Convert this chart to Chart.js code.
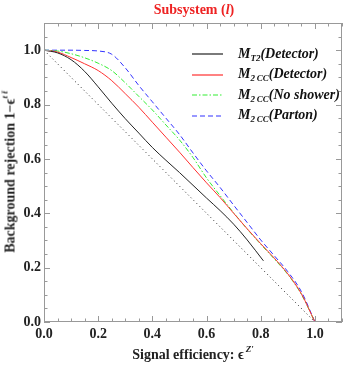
<!DOCTYPE html>
<html>
<head>
<meta charset="utf-8">
<script src="https://cdn.jsdelivr.net/npm/chart.js@4.4.1/dist/chart.umd.min.js"></script>
<style>
    body { margin: 0; background: #fff; }
    #wrap { position: relative; width: 343px; height: 366px; font-family: "Liberation Serif", serif; font-weight: bold; }
    canvas { position: absolute; left: 0; top: 0; }
    .lbl { position: absolute; white-space: nowrap; color: #222; }
    #title { left: 0; width: 343px; top: 2px; text-align: center; padding-left: 45px; box-sizing: border-box; color: #ee2222; font-size: 14px; }
    #xlabel { left: 44px; width: 298px; top: 344px; text-align: center; font-size: 14px; }
    #ylabel { left: 9px; top: 172px; font-size: 14px; transform: translate(-50%, -50%) rotate(-90deg); }
    #legend { position: absolute; left: 192px; top: 44px; font-size: 14px; font-style: italic; color: #111; }
    .row { height: 20.5px; display: flex; align-items: center; }
    .row svg { margin-right: 15px; }
    sub { font-size: 9px; vertical-align: -3px; }
    sup { font-size: 9px; vertical-align: 7px; }
</style>
</head>
<body>
<div id="wrap">
    <canvas id="chart" width="343" height="366"></canvas>
    <div id="title" class="lbl">Subsystem (<i>l</i>)</div>
    <div id="xlabel" class="lbl">Signal efficiency: &#x3F5;<sup>&thinsp;<i>Z&#x2032;</i></sup></div>
    <div id="ylabel" class="lbl">Background rejection 1&minus;&#x3F5;<sup><i>t t&#x0304;</i></sup></div>
    <div id="legend"></div>
</div>
<script>
// values
const xMT2 = [0, 0.05, 0.1, 0.15, 0.2, 0.25, 0.3, 0.35, 0.4, 0.45, 0.5, 0.55, 0.6, 0.65, 0.7, 0.75, 0.81];
const yMT2 = [1.0, 0.99, 0.965, 0.922, 0.865, 0.805, 0.748, 0.695, 0.642, 0.595, 0.55, 0.503, 0.456, 0.41, 0.36, 0.302, 0.225];

const xCurves = [0, 0.05, 0.1, 0.15, 0.2, 0.25, 0.3, 0.35, 0.4, 0.45, 0.5, 0.55, 0.6, 0.65, 0.7, 0.75, 0.8, 0.85, 0.9, 0.95, 1.0];
const yDetector = [1.0, 0.993, 0.973, 0.95, 0.925, 0.888, 0.84, 0.79, 0.735, 0.68, 0.625, 0.568, 0.512, 0.458, 0.4, 0.343, 0.288, 0.235, 0.177, 0.104, 0.0];
const yNoShower = [1.0, 0.997, 0.987, 0.972, 0.952, 0.925, 0.88, 0.83, 0.78, 0.725, 0.67, 0.605, 0.53, 0.465, 0.402, 0.342, 0.286, 0.232, 0.175, 0.102, 0.0];
const yParton = [1.0, 1.0, 1.0, 0.999, 0.997, 0.985, 0.935, 0.87, 0.81, 0.75, 0.69, 0.622, 0.556, 0.495, 0.43, 0.366, 0.302, 0.244, 0.185, 0.112, 0.0];

const xDiag = [0, 1];
const yDiag = [1, 0];

const tickLabels = [0, 0.2, 0.4, 0.6, 0.8, 1.0];
const axisMax = 1.1;

const legendItems = [
    { html: 'M<sub>T2</sub>(Detector)', color: '#222222', dash: '' },
    { html: 'M<sub>2&thinsp;CC</sub>(Detector)', color: '#ff3030', dash: '' },
    { html: 'M<sub>2&thinsp;CC</sub>(No shower)', color: '#33ee33', dash: '5 2 1.5 2' },
    { html: 'M<sub>2&thinsp;CC</sub>(Parton)', color: '#3333ff', dash: '5 3' }
];

function toPoints(xs, ys) {
    return xs.map((x, i) => ({ x: x, y: ys[i] }));
}

// frame with inward ticks, like the original plot
const framePlugin = {
    id: 'frame',
    afterDraw(chart) {
        const ctx = chart.ctx;
        const a = chart.chartArea;
        const xs = chart.scales.x;
        const ys = chart.scales.y;
        ctx.save();
        ctx.strokeStyle = '#999999';
        ctx.lineWidth = 1;
        ctx.strokeRect(a.left + 0.5, a.top + 0.5, a.right - a.left - 1, a.bottom - a.top - 1);
        for (let i = 0; i <= 22; i++) {
            const v = i * 0.05;
            const len = (i % 4 === 0) ? 6 : 3.5;
            const px = Math.round(xs.getPixelForValue(v)) + 0.5;
            const py = Math.round(ys.getPixelForValue(v)) + 0.5;
            ctx.beginPath();
            ctx.moveTo(px, a.bottom); ctx.lineTo(px, a.bottom - len);
            ctx.moveTo(px, a.top); ctx.lineTo(px, a.top + len);
            ctx.moveTo(a.left, py); ctx.lineTo(a.left + len, py);
            ctx.moveTo(a.right, py); ctx.lineTo(a.right - len, py);
            ctx.stroke();
        }
        ctx.restore();
    }
};

document.addEventListener('DOMContentLoaded', function() {
    const ctx = document.getElementById('chart');

    const line = (label, xs, ys, color, dash, width) => ({
        label: label,
        data: toPoints(xs, ys),
        borderColor: color,
        borderWidth: width || 1,
        borderDash: dash,
        pointRadius: 0,
        fill: false,
        cubicInterpolationMode: 'monotone'
    });

    const tickFont = { family: 'Liberation Serif', weight: 'bold', size: 14 };

    new Chart(ctx, {
        type: 'line',
        data: {
            datasets: [
                line('diagonal', xDiag, yDiag, '#222222', [1, 3]),
                line('MT2(Detector)', xMT2, yMT2, '#222222', []),
                line('M2CC(Detector)', xCurves, yDetector, '#ff3030', []),
                line('M2CC(No shower)', xCurves, yNoShower, '#33ee33', [5, 2, 1.5, 2]),
                line('M2CC(Parton)', xCurves, yParton, '#3333ff', [5, 3])
            ]
        },
        options: {
            responsive: false,
            animation: false,
            layout: { padding: { top: 23, right: 1 } },
            plugins: { legend: { display: false }, tooltip: { enabled: false } },
            scales: {
                x: {
                    type: 'linear', min: 0, max: axisMax,
                    afterFit: s => { s.height = 44; },
                    afterBuildTicks: s => { s.ticks = tickLabels.map(v => ({ value: v })); },
                    grid: { display: false, drawTicks: false },
                    border: { display: false },
                    ticks: { color: '#222', padding: 4, font: tickFont, callback: v => v.toFixed(1) }
                },
                y: {
                    type: 'linear', min: 0, max: axisMax,
                    afterFit: s => { s.width = 44; },
                    afterBuildTicks: s => { s.ticks = tickLabels.map(v => ({ value: v })); },
                    grid: { display: false, drawTicks: false },
                    border: { display: false },
                    ticks: { color: '#222', padding: 3, font: tickFont, callback: v => v.toFixed(1) }
                }
            }
        },
        plugins: [framePlugin]
    });

    const legend = document.getElementById('legend');
    legendItems.forEach(item => {
        const row = document.createElement('div');
        row.className = 'row';
        row.innerHTML = '<svg width="31" height="4"><line x1="0" y1="2" x2="31" y2="2" stroke="' + item.color +
            '" stroke-width="1.2" stroke-dasharray="' + item.dash + '"/></svg><span>' + item.html + '</span>';
        legend.appendChild(row);
    });
});
</script>
</body>
</html>
